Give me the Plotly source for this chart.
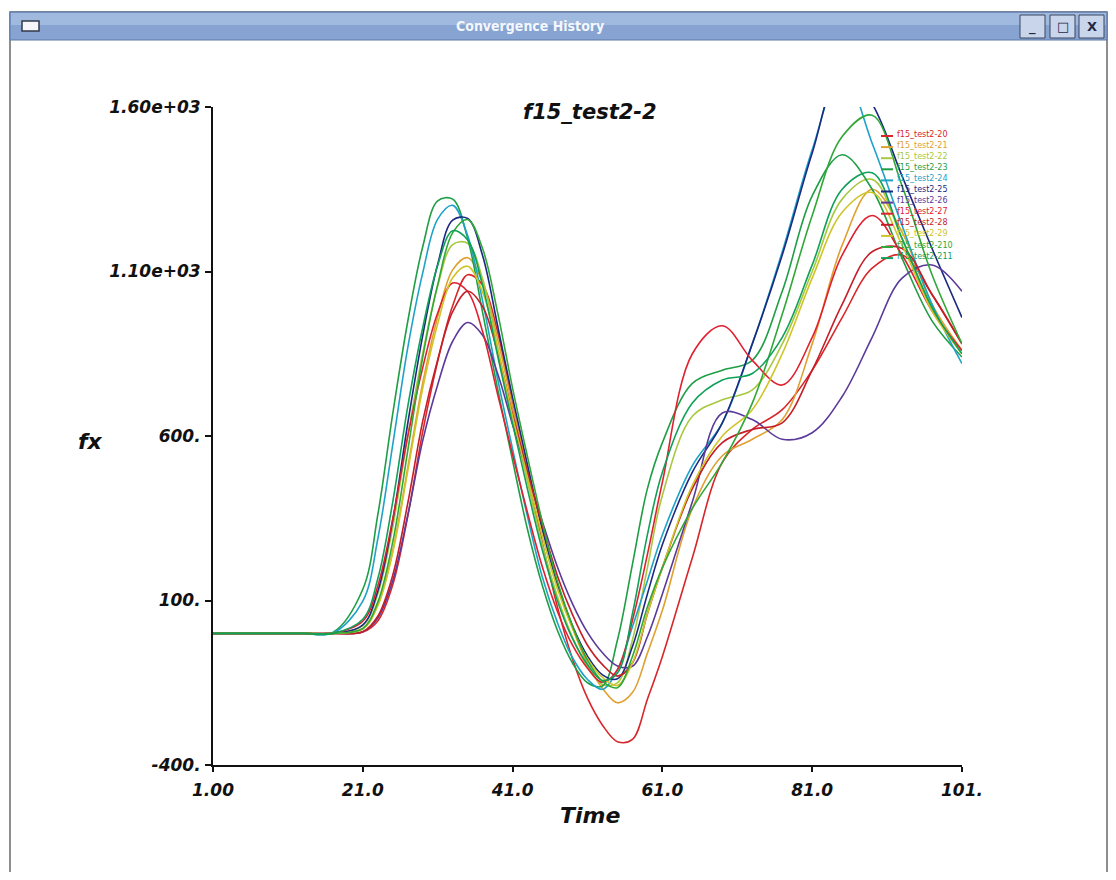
import plotly.graph_objects as go

# ---------------- data ----------------
time = [1, 5, 9, 13, 17, 21, 23, 25, 27, 29, 31, 33, 35, 37, 39, 41, 43, 45, 47, 49,
        51, 53, 55, 57, 59, 61, 65, 69, 73, 77, 81, 85, 89, 93, 97, 101]

series_names = ["f15_test2-20", "f15_test2-21", "f15_test2-22", "f15_test2-23",
                "f15_test2-24", "f15_test2-25", "f15_test2-26", "f15_test2-27",
                "f15_test2-28", "f15_test2-29", "f15_test2-210", "f15_test2-211"]

series_colors = ["#d8262a", "#e0a030", "#a8c840", "#1f9e45", "#1fa2c8", "#1a2a80",
                 "#5a3a9a", "#e02030", "#c41e28", "#cfc428", "#30a838", "#10a058"]

s20 = [0, 0, 0, 0, 0, 4, 38, 148, 356, 613, 827, 996, 1090, 1059, 916, 694, 480, 272, 79, -78,
       -197, -279, -329, -322, -200, -70, 230, 520, 620, 680, 800, 960, 1110, 1150, 1030, 880]
s21 = [0, 0, 0, 0, 0, 14, 86, 252, 504, 761, 962, 1105, 1142, 1066, 896, 689, 496, 315, 145, 16,
       -93, -167, -211, -180, -60, 70, 380, 540, 590, 650, 880, 1180, 1350, 1220, 1000, 860]
s22 = [0, 0, 0, 0, 0, 24, 120, 324, 600, 852, 1056, 1182, 1186, 1077, 871, 659, 460, 268, 111, -12,
       -102, -156, -150, -20, 200, 420, 660, 710, 740, 880, 1100, 1320, 1380, 1200, 990, 850]
s23 = [0, 0, 0, 0, 3, 134, 360, 668, 948, 1175, 1315, 1320, 1200, 975, 743, 525, 315, 143, 8, -90,
       -150, -160, -20, 210, 440, 580, 760, 800, 830, 1040, 1330, 1455, 1350, 1140, 950, 840]
s24 = [0, 0, 0, 0, 1, 98, 287, 574, 868, 1096, 1259, 1301, 1209, 1010, 774, 560, 354, 169, 32, -74,
       -140, -170, -110, 20, 160, 300, 510, 640, 880, 1160, 1470, 1710, 1490, 1240, 1000, 820]
s25 = [0, 0, 0, 0, 0, 26, 128, 344, 638, 905, 1122, 1256, 1261, 1148, 935, 716, 511, 313, 150, 23,
       -69, -126, -138, -40, 120, 270, 490, 640, 880, 1150, 1460, 1720, 1610, 1390, 1170, 960]
s26 = [0, 0, 0, 0, 0, 5, 47, 161, 359, 586, 756, 888, 945, 906, 790, 634, 484, 338, 201, 90,
       3, -59, -99, -100, -10, 120, 400, 670, 650, 590, 610, 720, 900, 1080, 1120, 1040]
s27 = [0, 0, 0, 0, 0, 37, 144, 348, 599, 808, 974, 1065, 1039, 917, 727, 543, 366, 200, 66, -36,
       -106, -149, -110, 40, 240, 460, 850, 935, 830, 755, 900, 1150, 1270, 1150, 980, 860]
s28 = [0, 0, 0, 0, 0, 5, 52, 177, 395, 645, 832, 978, 1040, 993, 853, 666, 490, 326, 174, 57,
       -36, -95, -130, -90, 60, 200, 440, 580, 620, 640, 800, 1000, 1160, 1170, 1030, 880]
s29 = [0, 0, 0, 0, 0, 13, 84, 246, 493, 745, 941, 1081, 1116, 1037, 864, 659, 474, 294, 134, 15,
       -77, -134, -158, -90, 60, 200, 450, 600, 680, 850, 1080, 1280, 1340, 1180, 980, 850]
s210 = [0, 0, 0, 0, 0, 15, 95, 278, 555, 839, 1060, 1218, 1258, 1169, 975, 745, 536, 335, 156, 22,
        -82, -146, -165, -70, 80, 200, 380, 520, 700, 970, 1270, 1510, 1575, 1360, 1090, 880]
s211 = [0, 0, 0, 0, 0, 43, 166, 400, 689, 929, 1119, 1224, 1196, 1057, 844, 637, 437, 250, 98, -16,
        -95, -143, -120, 60, 300, 490, 700, 770, 790, 900, 1120, 1350, 1400, 1200, 990, 850]

series_values = [s20, s21, s22, s23, s24, s25, s26, s27, s28, s29, s210, s211]

x_tickvals = [1, 21, 41, 61, 81, 101]
x_ticktext = ["1.00", "21.0", "41.0", "61.0", "81.0", "101."]
y_tickvals = [-400, 100, 600, 1100, 1600]
y_ticktext = ["-400.", "100.", "600.", "1.10e+03", "1.60e+03"]

chart_title = "f15_test2-2"
window_title = "Convergence History"
x_title = "Time"
y_title = "fx"

# ---------------- layout geometry ----------------
# the page body has an 8px default margin; figure is sized so that the
# plot area lands on page pixels x 213..962, y 107..765
OFF = 8
W, H = 1100, 864
ML, MT = 213 - OFF, 107 - OFF
MR = W - (962 - OFF)
MB = H - (765 - OFF)
PW, PH = W - ML - MR, H - MT - MB


def fx(p):  # page pixel -> paper x
    return (p - OFF - ML) / PW


def fy(p):  # page pixel -> paper y
    return (H - MB - (p - OFF)) / PH


FONT = "DejaVu Sans"

fig = go.Figure()
for name, color, vals in zip(series_names, series_colors, series_values):
    fig.add_trace(go.Scatter(x=time, y=vals, name=name, mode="lines",
                             line=dict(color=color, width=1.6, shape="spline", smoothing=1.0),
                             showlegend=False))

shapes = []
annotations = []


def ann(x, y, text, size, color, family=FONT, xanchor="center"):
    annotations.append(dict(x=fx(x), y=fy(y), xref="paper", yref="paper", text=text,
                            showarrow=False, xanchor=xanchor, yanchor="middle",
                            font=dict(family=family, size=size, color=color)))


# window frame
shapes.append(dict(type="rect", xref="paper", yref="paper", x0=fx(10), x1=fx(1107),
                   y0=fy(876), y1=fy(12), line=dict(color="#6a6a6a", width=1.5),
                   fillcolor="rgba(0,0,0,0)", layer="below"))
shapes.append(dict(type="rect", xref="paper", yref="paper", x0=fx(10), x1=fx(1107),
                   y0=fy(40), y1=fy(12), line=dict(color="#5c79a8", width=1),
                   fillcolor="#86a3d2", layer="below"))
shapes.append(dict(type="rect", xref="paper", yref="paper", x0=fx(11), x1=fx(1106),
                   y0=fy(25), y1=fy(13), line=dict(width=0),
                   fillcolor="#a0b9df", layer="below"))
# window icon
shapes.append(dict(type="rect", xref="paper", yref="paper", x0=fx(22), x1=fx(39),
                   y0=fy(31), y1=fy(21), line=dict(color="#333a4a", width=1.5),
                   fillcolor="#f4f6fa", layer="below"))
# window buttons
for bx, sym in [(1020, "_"), (1050, "\u25a1"), (1079, "X")]:
    shapes.append(dict(type="rect", xref="paper", yref="paper", x0=fx(bx), x1=fx(bx + 25),
                       y0=fy(38), y1=fy(15), line=dict(color="#3a4660", width=1),
                       fillcolor="#c9d5ea", layer="below"))
    ann(bx + 12.5, 27, f"<b>{sym}</b>", 13, "#1e2a44")
ann(530, 26, f"<b>{window_title}</b>", 14, "#f4f7fc",
    family="DejaVu Sans Condensed, DejaVu Sans")

# chart title and axis titles
ann(590, 112, f"<b><i>{chart_title}</i></b>", 21, "#111")
ann(590, 815, f"<b><i>{x_title}</i></b>", 22, "#111")
ann(91, 441, f"<b><i>{y_title}</i></b>", 22, "#111")

# legend (small coloured labels inside the plot, as in the original)
for i, (name, color) in enumerate(zip(series_names, series_colors)):
    yy = 134 + 11.1 * i
    shapes.append(dict(type="line", xref="paper", yref="paper", x0=fx(881), x1=fx(893),
                       y0=fy(yy + 2), y1=fy(yy + 2), line=dict(color=color, width=2)))
    ann(895, yy, name, 8, color, xanchor="left")

tickfont = dict(family=FONT, size=17, color="#111", weight="bold", style="italic")

fig.update_layout(
    width=W, height=H,
    margin=dict(l=ML, r=MR, t=MT, b=MB, pad=0),
    paper_bgcolor="white", plot_bgcolor="white",
    showlegend=False,
    shapes=shapes, annotations=annotations,
    xaxis=dict(range=[1, 101], tickvals=x_tickvals, ticktext=x_ticktext,
               showgrid=False, zeroline=False, showline=True, linecolor="#111", linewidth=2,
               ticks="outside", ticklen=5, tickwidth=2, tickcolor="#111",
               tickfont=tickfont, ticklabelstandoff=4),
    yaxis=dict(range=[-400, 1600], tickvals=y_tickvals, ticktext=y_ticktext,
               showgrid=False, zeroline=False, showline=True, linecolor="#111", linewidth=2,
               ticks="outside", ticklen=6, tickwidth=2, tickcolor="#111",
               tickfont=tickfont, ticklabelstandoff=1),
)

fig.write_html("out.html")
